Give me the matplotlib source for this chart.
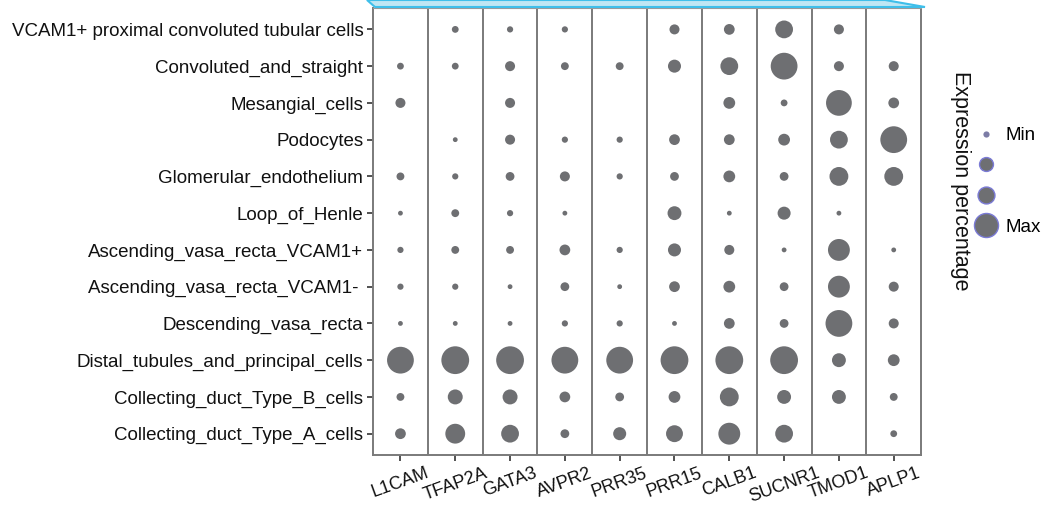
import numpy as np
import matplotlib
matplotlib.use("Agg")
import matplotlib.pyplot as plt
import matplotlib.transforms as mtransforms
from matplotlib.lines import Line2D
from matplotlib.patches import Polygon

plt.rcParams['font.family'] = ['Liberation Sans', 'DejaVu Sans']

genes = ["L1CAM", "TFAP2A", "GATA3", "AVPR2", "PRR35",
         "PRR15", "CALB1", "SUCNR1", "TMOD1", "APLP1"]

cell_types = [
    "VCAM1+ proximal convoluted tubular cells",
    "Convoluted_and_straight",
    "Mesangial_cells",
    "Podocytes",
    "Glomerular_endothelium",
    "Loop_of_Henle",
    "Ascending_vasa_recta_VCAM1+",
    "Ascending_vasa_recta_VCAM1- ",
    "Descending_vasa_recta",
    "Distal_tubules_and_principal_cells",
    "Collecting_duct_Type_B_cells",
    "Collecting_duct_Type_A_cells",
]

# expression percentage per cell type (rows) and gene (columns), 0 = not detected
pct_vcam1_pct = [0, 6, 5, 5, 0, 13, 15, 41, 13, 0]
pct_convoluted = [6, 6, 13, 8, 8, 22, 41, 93, 13, 13]
pct_mesangial = [13, 0, 13, 0, 0, 0, 18, 6, 86, 15]
pct_podocytes = [0, 3, 13, 5, 5, 15, 15, 18, 41, 93]
pct_glomerular = [8, 5, 10, 13, 5, 10, 18, 10, 46, 46]
pct_loop = [3, 8, 5, 3, 0, 25, 3, 22, 3, 0]
pct_avr_pos = [5, 8, 8, 15, 5, 22, 13, 3, 62, 3]
pct_avr_neg = [5, 5, 3, 10, 3, 15, 18, 10, 62, 13]
pct_dvr = [3, 3, 3, 5, 5, 3, 15, 10, 93, 13]
pct_distal = [93, 100, 100, 93, 93, 100, 100, 100, 25, 18]
pct_cd_b = [8, 29, 29, 15, 10, 18, 46, 25, 25, 8]
pct_cd_a = [15, 51, 41, 10, 22, 37, 62, 41, 0, 6]

pct = np.array([pct_vcam1_pct, pct_convoluted, pct_mesangial, pct_podocytes,
                pct_glomerular, pct_loop, pct_avr_pos, pct_avr_neg, pct_dvr,
                pct_distal, pct_cd_b, pct_cd_a], dtype=float)

legend_labels = ["Min", "", "", "Max"]
legend_pct = [5, 25, 37, 75]

DOT = "#6e6f72"
LINE = "#7a7a7a"
AREA_PER_PCT = 4.0  # marker area (pt^2) per percent
FS = 13.5

fig = plt.figure(figsize=(10.42, 5.05), dpi=100)
ax = fig.add_axes([0.358, 0.099, 0.526, 0.885])

rows, cols = np.nonzero(pct > 0)
ax.scatter(cols, rows, s=pct[rows, cols] * AREA_PER_PCT, color=DOT,
           edgecolors="none", zorder=3)

ax.set_xlim(-0.5, len(genes) - 0.5)
ax.set_ylim(len(cell_types) - 0.42, -0.58)

# facet-like separators between gene columns
for x in np.arange(len(genes) - 1) + 0.5:
    ax.axvline(x, color=LINE, lw=1.4, zorder=1)

ax.set_xticks(np.arange(len(genes)))
ax.set_xticklabels(genes, rotation=20, ha="center", fontsize=13, color="#111111")
shift = mtransforms.ScaledTranslation(-8 / 100, 2 / 100, fig.dpi_scale_trans)
for lbl in ax.get_xticklabels():
    lbl.set_transform(lbl.get_transform() + shift)
ax.set_yticks(np.arange(len(cell_types)))
ax.set_yticklabels(cell_types, fontsize=FS, color="#111111")
ax.tick_params(axis="both", length=4, width=1.2, color="#333333", pad=3)

for side in ["left", "bottom", "right"]:
    ax.spines[side].set_color(LINE)
    ax.spines[side].set_linewidth(1.4)
ax.spines["top"].set_color("#9a9a9a")
ax.spines["top"].set_linewidth(0.8)

# size legend
handles = []
for i, p in enumerate(legend_pct):
    ms = np.sqrt(p * AREA_PER_PCT)
    handles.append(Line2D([], [], ls="none", marker="o", markersize=ms,
                          markerfacecolor=DOT if i else "#7c7ca6",
                          markeredgecolor="#7b7bd6" if i else "none",
                          markeredgewidth=1.0))
fig.legend(handles, legend_labels, loc="upper left",
           bbox_to_anchor=(0.925, 0.767), frameon=False, fontsize=FS,
           handletextpad=0.3, labelspacing=0.72, borderpad=0, handlelength=1.4)
fig.text(0.922, 0.642, "Expression percentage", rotation=270, fontsize=15.5,
         ha="center", va="center", color="#111111")

# light blue header band along the top edge
fig.patches.append(Polygon([[367, 505], [885, 505], [925, 498], [375, 498]],
                           closed=True, transform=None, facecolor="#bfe6f3",
                           edgecolor="#3fbfea", lw=1.5))

fig.savefig("out.png", dpi=100)
